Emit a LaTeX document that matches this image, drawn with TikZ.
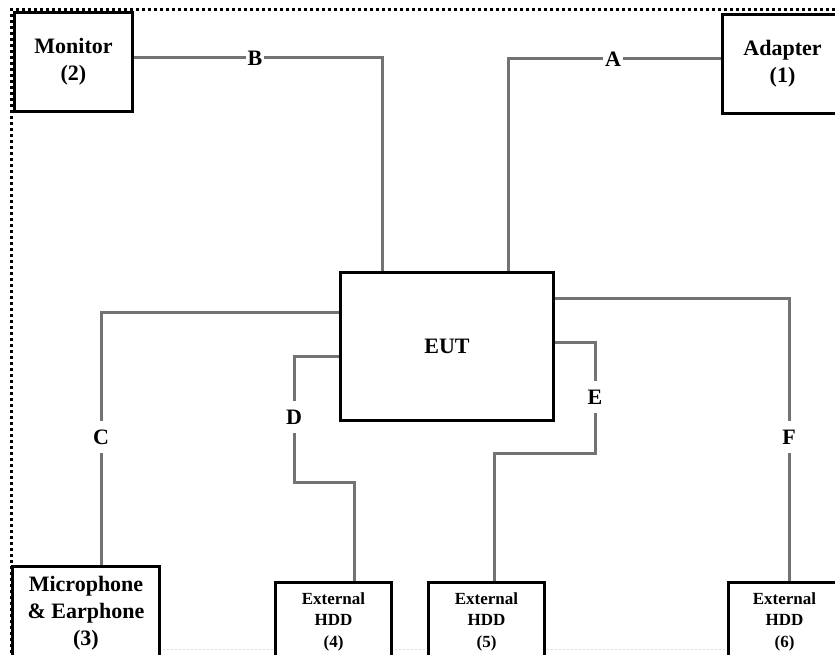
\documentclass[tikz,border=0pt]{standalone}
\usepackage{fontspec}
\setmainfont{Liberation Serif}
\begin{document}
\begin{tikzpicture}[x=1pt,y=-1pt,
    box/.style={draw,line width=3pt,fill=white,align=center,anchor=north west,
        font=\bfseries\fontsize{22}{27}\selectfont},
    hddbox/.style={box,minimum width=116pt,minimum height=78pt,
        font=\bfseries\fontsize{17}{21.5}\selectfont},
    cable/.style={draw=black!55,line width=3pt},
    lbl/.style={fill=white,inner xsep=2pt,inner ysep=9pt,font=\bfseries\fontsize{22}{22}\selectfont},
    frame/.style={line width=3pt,dash pattern=on 3pt off 3pt}]
    \useasboundingbox (0,0) rectangle (835,655);
    \clip (0,0) rectangle (835,655);
    \draw[frame] (11,665)--(11,10)--(840,10);
    \draw[gray!25,line width=1pt,dash pattern=on 2pt off 2pt] (11,649)--(835,649);
    % thiet bi
    \path
    (13,11) node[box,minimum width=118pt,minimum height=99pt] (mon) {Monitor\\(2)}
    (721,13) node[box,minimum width=120pt,minimum height=99pt] (adp) {Adapter\\(1)}
    (339,271) node[box,minimum width=213pt,minimum height=148pt] (eut) {EUT}
    (11,565) node[box,minimum width=147pt,minimum height=94pt] (mic) {Microphone\\\& Earphone\\(3)};
    \foreach \n/\x/\w in {4/274/116,5/427/116,6/727/112}
    \path (\x,581) node[hddbox,minimum width=\w pt] (hdd\n) {External\\HDD\\(\n)};
    % diem gap
    \coordinate (kA) at (508,59);
    \coordinate (kB) at (382,58);
    \coordinate (kC) at (101,312);
    \coordinate (kD) at (294,356);
    \coordinate (kDD) at (354,482);
    \coordinate (kE) at (595,342);
    \coordinate (kEE) at (494,453);
    \coordinate (kF) at (789,298);
    % day noi
    \draw[cable] (mon.east|-kB)--(kB)--(kB|-eut.north);
    \draw[cable] (adp.west|-kA)--(kA)--(kA|-eut.north);
    \draw[cable] (eut.west|-kC)--(kC)--(kC|-mic.north);
    \draw[cable] (eut.west|-kD)--(kD)|-(kDD)--(kDD|-hdd4.north);
    \draw[cable] (eut.east|-kE)--(kE)|-(kEE)--(kEE|-hdd5.north);
    \draw[cable] (eut.east|-kF)--(kF)--(kF|-hdd6.north);
    \path
    (613,59) node[lbl] (lA) {A}
    (255,58) node[lbl] (lB) {B}
    (101,437) node[lbl] (lC) {C}
    (294,417) node[lbl] (lD) {D}
    (595,397) node[lbl] (lE) {E}
    (789,437) node[lbl] (lF) {F};
\end{tikzpicture}
\end{document}
